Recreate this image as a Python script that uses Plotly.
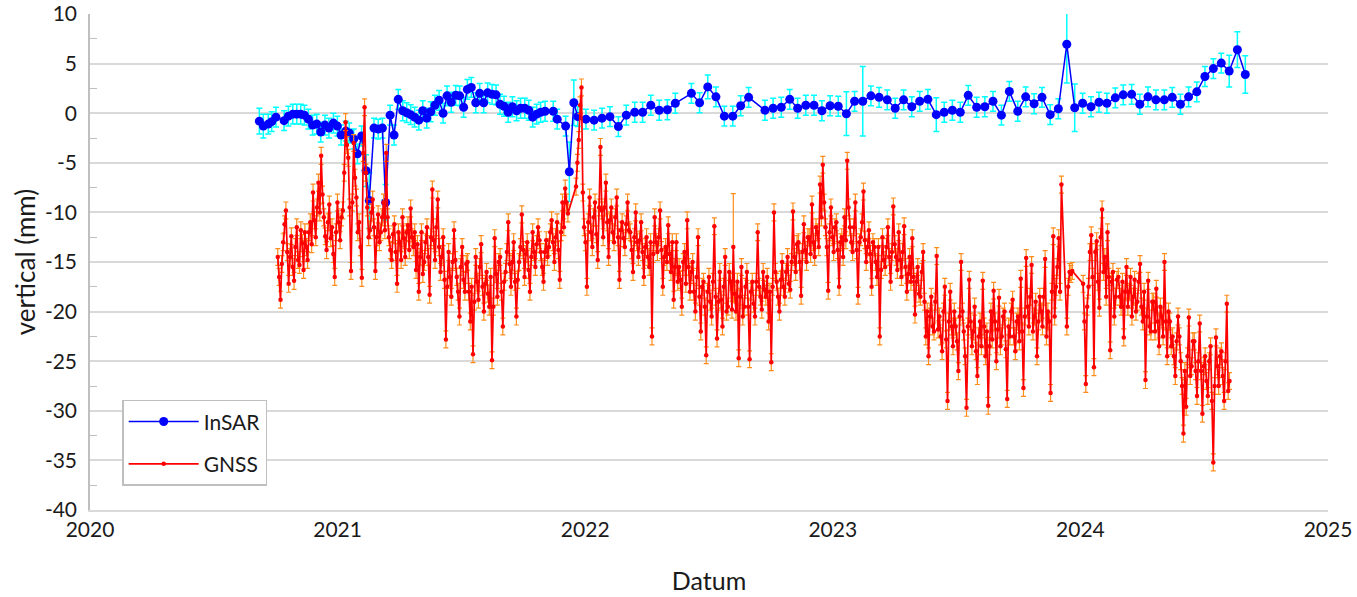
import plotly.graph_objects as go
import pandas as pd

# ---------------- InSAR (decimal year, mm, 1-sigma) ----------------
insar_year = [
    2020.684, 2020.700, 2020.720, 2020.734, 2020.751, 2020.784, 2020.801, 2020.819, 2020.835, 2020.851,
    2020.866, 2020.882, 2020.899, 2020.916, 2020.932, 2020.949, 2020.965, 2020.983, 2020.999, 2021.014,
    2021.033, 2021.047, 2021.065, 2021.080, 2021.097, 2021.115, 2021.128, 2021.147, 2021.164, 2021.181,
    2021.194, 2021.212, 2021.228, 2021.245, 2021.263, 2021.279, 2021.295, 2021.311, 2021.328, 2021.344,
    2021.360, 2021.376, 2021.393, 2021.410, 2021.426, 2021.442, 2021.459, 2021.477, 2021.493, 2021.509,
    2021.524, 2021.540, 2021.558, 2021.574, 2021.590, 2021.606, 2021.624, 2021.640, 2021.656, 2021.672,
    2021.689, 2021.706, 2021.723, 2021.739, 2021.756, 2021.772, 2021.788, 2021.804, 2021.820, 2021.838,
    2021.871, 2021.887, 2021.921, 2021.936, 2021.954, 2021.970, 2022.003, 2022.036, 2022.068, 2022.100,
    2022.134, 2022.166, 2022.200, 2022.232, 2022.265, 2022.299, 2022.332, 2022.364, 2022.429, 2022.462,
    2022.495, 2022.528, 2022.562, 2022.596, 2022.628, 2022.660, 2022.726, 2022.759, 2022.792, 2022.826,
    2022.858, 2022.891, 2022.924, 2022.956, 2022.989, 2023.022, 2023.055, 2023.088, 2023.121, 2023.154,
    2023.187, 2023.220, 2023.252, 2023.286, 2023.319, 2023.351, 2023.384, 2023.418, 2023.450, 2023.483,
    2023.515, 2023.547, 2023.581, 2023.614, 2023.647, 2023.681, 2023.713, 2023.747, 2023.779, 2023.813,
    2023.845, 2023.878, 2023.911, 2023.945, 2023.977, 2024.009, 2024.043, 2024.075, 2024.107, 2024.141,
    2024.173, 2024.207, 2024.240, 2024.273, 2024.305, 2024.339, 2024.371, 2024.404, 2024.437, 2024.470,
    2024.503, 2024.537, 2024.569, 2024.601, 2024.634, 2024.666,
]
insar_mm = [
    -0.8, -1.3, -1.1, -0.85, -0.4, -0.75, -0.3, -0.1, -0.1, -0.1,
    -0.2, -0.6, -1.2, -1.1, -1.9, -1.2, -1.5, -1.0, -1.3, -2.2,
    -1.8, -2.0, -2.6, -4.1, -2.3, -5.8, -8.8, -1.5, -1.6, -1.5,
    -9.0, -0.2, -2.2, 1.4, 0.25, 0.05, -0.15, -0.4, -0.7, 0.25,
    -0.5, 0.15, 0.8, 1.3, 0.0, 1.75, 1.1, 1.8, 1.75, 0.6,
    2.4, 2.6, 1.05, 2.0, 1.05, 2.05, 1.9, 1.85, 0.9, 0.7,
    0.1, 0.65, 0.25, 0.5, 0.5, 0.3, -0.4, -0.1, 0.1, 0.2,
    0.2, -0.6, -1.3, -5.9, 1.05, -0.35, -0.6, -0.7, -0.5, -0.35,
    -1.35, -0.2, 0.1, 0.1, 0.8, 0.3, 0.35, 1.0, 2.0, 1.05,
    2.65, 1.65, -0.3, -0.3, 0.75, 1.6, 0.3, 0.5, 0.6, 1.4,
    0.5, 0.8, 0.8, 0.25, 0.75, 0.7, -0.05, 1.2, 1.2, 1.75,
    1.6, 1.35, 0.5, 1.35, 0.65, 1.2, 1.4, -0.15, 0.1, 0.3,
    0.1, 1.8, 0.6, 0.65, 1.2, -0.2, 2.2, 0.2, 1.65, 0.95,
    1.6, -0.15, 0.45, 6.95, 0.55, 1.0, 0.65, 1.1, 1.0, 1.55,
    1.85, 1.9, 0.9, 1.65, 1.35, 1.35, 1.6, 0.9, 1.65, 2.15,
    3.7, 4.5, 5.05, 4.25, 6.4, 3.9,
]
insar_err_default = 1.0
insar_err_large = {
    2020.684: 1.3, 2020.700: 1.2, 2021.115: 1.6, 2021.128: 2.8, 2021.194: 1.8,
    2021.936: 3.0, 2021.954: 2.3, 2022.495: 1.2, 2023.055: 2.2, 2023.121: 3.5,
    2023.418: 1.7, 2023.945: 3.9, 2023.977: 2.4, 2024.601: 1.6, 2024.634: 1.8,
    2024.666: 1.9,
}

# ---------------- GNSS (mm) ----------------
# gnss_mm_a: samples every 4 days from gnss_start
# gnss_mm_b: samples every 4 days from gnss_start + 2 days
gnss_start = "2020-10-04"
gnss_step_days = 4
gnss_mm_a = [
    -14.5, -18.8, -13.0, -9.8, -17.2, -12.4, -16.9, -11.5, -15.3, -13.1,
    -12.0, -14.8, -11.0, -8.0, -12.5, -7.0, -4.3, -10.5, -13.8, -9.2,
    -11.5, -16.5, -9.0, -12.8, -9.8, -0.9, -4.5, -15.9, -3.0, -8.5,
    -11.0, -16.6, 0.6, -9.5, -11.8, -8.7, -15.9, -10.2, -12.0, -9.0,
    -4.0, -12.5, -14.8, -11.2, -17.2, -13.0, -10.5, -14.5, -11.3, -9.6,
    -13.5, -15.8, -18.0, -12.0, -15.0, -11.5, -18.3, -7.7, -14.8, -8.7,
    -16.0, -12.5, -22.8, -14.0, -18.5, -11.8, -16.5, -20.5, -13.5, -18.0,
    -15.0, -21.0, -24.3, -14.5, -18.8, -13.2, -20.0, -16.0, -19.5, -24.9,
    -12.6, -18.5, -14.5, -21.5, -16.0, -11.0, -17.5, -13.0, -20.5, -15.0,
    -10.2, -16.5, -13.0, -18.0, -12.0, -15.5, -11.5, -14.0, -17.0, -12.8,
    -13.5, -10.8, -15.0, -11.0, -16.8, -9.0, -7.6, -10.1, None, None,
    -7.4, -2.7, 2.6, -11.5, -17.5, -8.5, -13.5, -9.0, -14.8, -3.4,
    -12.5, -7.0, -14.5, -9.5, -13.0, -8.5, -16.8, -11.0, -13.5, -9.0,
    -12.0, -16.0, -10.0, -14.5, -11.0, -16.5, -12.5, -15.5, -22.5, -10.5,
    -14.0, -9.8, -17.5, -13.5, -11.3, -16.0, -18.8, -13.0, -15.5, -19.5,
    -14.0, -10.8, -18.0, -15.0, -20.0, -12.5, -22.0, -17.0, -24.4, -16.5,
    -20.5, -11.4, -22.7, -16.0, -21.5, -14.5, -19.5, -17.0, -13.5, -20.0,
    -24.7, -15.5, -19.5, -16.0, -24.8, -17.0, -20.5, -12.0, -18.5, -16.0,
    -18.5, -21.0, -25.1, -10.0, -17.0, -20.0, -15.0, -18.5, -14.5, -17.8,
    -9.9, -16.0, -13.0, -18.4, -11.2, -15.0, -12.5, -9.2, -14.5, -12.0,
    -7.2, -5.2, -11.5, -17.9, -9.5, -14.0, -11.0, -17.5, -12.5, -10.5,
    -4.8, -11.5, -14.0, -9.0, -18.4, -12.5, -7.9, -15.0, -11.8, -17.5,
    -13.5, -16.5, -22.5, -12.5, -15.5, -11.5, -17.0, -9.4, -14.5, -12.0,
    -16.5, -11.4, -18.0, -14.5, -12.6, -20.3, -15.5, -18.5, -14.0, -22.5,
    -24.5, -18.5, -22.0, -14.4, -20.5, -24.0, -17.5, -29.0, -18.0, -23.5,
    -21.5, -26.0, -15.0, -22.0, -29.7, -16.8, -23.5, -19.5, -26.5, -21.0,
    -16.9, -24.5, -29.5, -20.0, -17.9, -25.0, -18.6, -22.5, -20.0, -28.8,
    -22.5, -18.8, -24.0, -20.5, -16.7, -27.7, -14.6, -21.5, -15.3, -20.5,
    -24.5, -18.5, -21.5, -14.7, -20.0, -28.2, -12.4, -17.5, -12.6, -7.2,
    None, -21.5, -16.0, -15.9, None, None, None, -17.2, -27.3, -17.5,
    -12.3, -25.6, -12.9, -19.6, -9.7, -14.5, -12.0, -23.9, -16.0, -18.5,
    -16.5, -19.5, -22.6, -15.5, -18.0, -20.5, -16.8, -19.0, -15.2, -21.0,
    -26.9, -16.9, -22.0, -19.0, -17.7, -23.5, -20.5, -15.0, -24.5, -21.0,
    -22.5, -26.5, -20.5, -25.0, -32.3, -29.6, -20.6, -25.5, -23.0, -28.5,
    -21.2, -30.3, -24.5, -28.5, -23.5, -35.2, -22.6, -27.5, -24.0, -29.0,
    -19.2, -27.0,
]
gnss_mm_b = [
    -16.5, -15.2, -11.2, -14.0, -14.5, -15.5, -13.5, -14.8, -11.8, -15.8,
    -13.5, -12.0, -13.2, -10.8, -9.5, -10.0, -8.2, -12.4, -11.0, -12.6,
    -14.2, -12.0, -11.0, -10.5, -6.0, -3.2, -9.5, -9.0, -6.5, -12.0,
    -13.5, -4.0, -6.0, -12.5, -10.0, -11.5, -12.5, -13.0, -10.5, -11.8,
    -10.5, -13.8, -12.2, -14.0, -12.0, -14.8, -12.6, -12.0, -13.8, -12.5,
    -12.0, -13.2, -14.5, -16.2, -13.0, -14.5, -12.5, -12.8, -11.5, -13.5,
    -14.5, -16.8, -17.5, -16.5, -15.0, -14.8, -18.0, -15.5, -16.8, -15.2,
    -18.0, -17.5, -19.0, -17.0, -15.5, -17.5, -17.2, -18.2, -16.5, -19.5,
    -16.2, -15.0, -18.0, -17.0, -14.0, -15.2, -15.0, -17.0, -16.8, -13.5,
    -13.8, -14.2, -15.8, -14.5, -14.0, -13.2, -12.8, -15.5, -14.0, -14.5,
    -12.0, -13.0, -12.5, -13.8, -12.0, -11.5, -9.0, None, None, None,
    -5.0, 0.8, -8.0, -13.0, -11.0, -12.0, -10.5, -12.2, -9.5, -9.8,
    -9.5, -11.0, -10.8, -12.0, -10.5, -12.5, -11.8, -12.6, -11.2, -11.8,
    -13.8, -12.5, -13.0, -12.8, -14.0, -13.5, -14.5, -13.0, -14.2, -13.0,
    -12.5, -13.8, -14.5, -15.0, -14.2, -13.0, -15.5, -17.0, -16.8, -15.0,
    -17.2, -15.5, -16.0, -18.0, -16.5, -18.5, -17.5, -19.5, -18.0, -19.0,
    -17.0, -18.5, -19.0, -18.8, -17.5, -20.0, -16.0, -19.8, -18.2, -17.0,
    -18.5, -20.5, -17.5, -19.5, -18.0, -19.2, -17.0, -17.5, -19.8, -17.8,
    -16.5, -18.0, -17.5, -16.0, -18.5, -16.8, -17.5, -16.0, -17.2, -15.0,
    -14.5, -13.2, -15.0, -14.0, -13.8, -12.5, -14.2, -13.0, -11.5, -13.5,
    -10.5, -9.0, -13.5, -12.0, -12.5, -11.5, -13.8, -13.0, -14.5, -12.8,
    -9.5, -13.0, -11.5, -13.8, -13.0, -11.0, -12.8, -13.5, -14.2, -13.0,
    -15.0, -13.5, -15.8, -14.8, -13.5, -14.5, -14.0, -13.2, -15.8, -14.8,
    -14.0, -15.5, -16.2, -17.0, -16.5, -17.0, -18.2, -16.0, -19.0, -20.0,
    -20.5, -21.5, -19.0, -21.8, -22.5, -20.0, -22.8, -21.0, -21.5, -20.0,
    -23.0, -20.5, -20.0, -24.5, -21.5, -21.0, -22.0, -24.0, -22.5, -23.5,
    -21.5, -22.0, -23.5, -22.8, -21.0, -21.8, -23.5, -20.5, -23.8, -21.5,
    -20.0, -22.5, -21.0, -23.0, -22.0, -20.5, -19.5, -18.5, -22.0, -19.0,
    -21.0, -20.0, -18.5, -22.5, -21.0, -18.0, -20.5, -15.5, -18.0, None,
    None, -17.5, -16.2, None, None, None, None, -21.0, -19.5, -14.0,
    -16.5, -14.0, -17.0, -12.5, -16.0, -18.5, -16.5, -17.0, -20.5, -16.8,
    -18.5, -17.0, -18.0, -19.5, -16.5, -18.5, -20.0, -17.0, -19.5, -18.0,
    -20.5, -21.5, -19.0, -22.0, -21.0, -19.5, -22.5, -21.0, -20.0, -23.5,
    -24.5, -23.0, -22.5, -27.5, -26.0, -24.5, -26.5, -23.0, -26.0, -25.0,
    -26.0, -25.5, -27.0, -25.0, -29.0, -27.5, -25.5, -24.5, -26.5, -25.0,
    -28.0, None,
]
gnss_err_default = 0.85
gnss_err_large = {("a", 168): 5.4}

y_tickvals = [10, 5, 0, -5, -10, -15, -20, -25, -30, -35, -40]
y_ticktext = ["10", "5", "0", "-5", "-10", "-15", "-20", "-25", "-30", "-35", "-40"]
x_tickvals = [2020, 2021, 2022, 2023, 2024, 2025]
x_ticktext = ["2020", "2021", "2022", "2023", "2024", "2025"]

# ---------------- derived ----------------
insar_err = [insar_err_large.get(y, insar_err_default) for y in insar_year]

ref = pd.Timestamp("2020-01-01")
start = pd.Timestamp(gnss_start)
gnss_year, gnss_mm, gnss_err = [], [], []
for i, (va, vb) in enumerate(zip(gnss_mm_a, gnss_mm_b)):
    for tag, off, v in (("a", 0, va), ("b", gnss_step_days // 2, vb)):
        d = start + pd.Timedelta(days=gnss_step_days * i + off)
        gnss_year.append(2020 + (d - ref).days / 365.25)
        gnss_mm.append(v)
        gnss_err.append(None if v is None else gnss_err_large.get((tag, i), gnss_err_default))

FONT = "Lato, 'Open Sans', 'Noto Sans', sans-serif"
TXT = "#1a1a1a"

fig = go.Figure()
fig.add_trace(go.Scatter(
    x=insar_year, y=insar_mm, name="InSAR", mode="lines+markers",
    line=dict(color="#0000FF", width=1.5),
    marker=dict(color="#0000FF", size=9),
    error_y=dict(type="data", array=insar_err, color="#00FFFF", thickness=1.5, width=3),
    legendgroup="a",
))
fig.add_trace(go.Scatter(
    x=gnss_year, y=gnss_mm, name="GNSS", mode="lines+markers",
    line=dict(color="#FF0000", width=1.7),
    marker=dict(color="#FF0000", size=4.5),
    connectgaps=True,
    error_y=dict(type="data", array=gnss_err, color="#FF8C1A", thickness=1.2, width=2.5),
    legendgroup="b",
))

fig.update_layout(
    width=1357, height=597,
    margin=dict(l=90, r=29, t=14, b=87),
    plot_bgcolor="white", paper_bgcolor="white",
    font=dict(family=FONT, size=21, color=TXT),
    showlegend=True,
    legend=dict(
        x=0.026, y=0.222, xanchor="left", yanchor="top",
        bgcolor="white", bordercolor="#BFBFBF", borderwidth=1.5,
        font=dict(family=FONT, size=21, color=TXT),
        tracegroupgap=12, itemwidth=70,
    ),
)
fig.update_xaxes(
    range=[2020, 2025], automargin=False,
    tickmode="array", tickvals=x_tickvals, ticktext=x_ticktext,
    tickfont=dict(size=21),
    showgrid=False, zeroline=False,
    showline=True, linecolor="#D9D9D9", linewidth=2,
    ticks="",
    title=dict(text="Datum", font=dict(size=25), standoff=32),
)
fig.update_yaxes(
    range=[-40, 10], automargin=False,
    tickmode="array", tickvals=y_tickvals, ticktext=y_ticktext,
    tickfont=dict(size=21),
    showgrid=True, gridcolor="#D9D9D9", gridwidth=1.5,
    zeroline=False,
    showline=True, linecolor="#BFBFBF", linewidth=1.5,
    ticks="", ticklabelstandoff=7,
    minor=dict(tickvals=[7.5, 2.5, -2.5, -7.5, -12.5, -17.5, -22.5, -27.5, -32.5, -37.5],
               ticks="inside", ticklen=7, tickcolor="#BFBFBF", showgrid=False),
    title=dict(text="vertical (mm)", font=dict(size=26), standoff=2),
)

fig.write_html("out.html")
